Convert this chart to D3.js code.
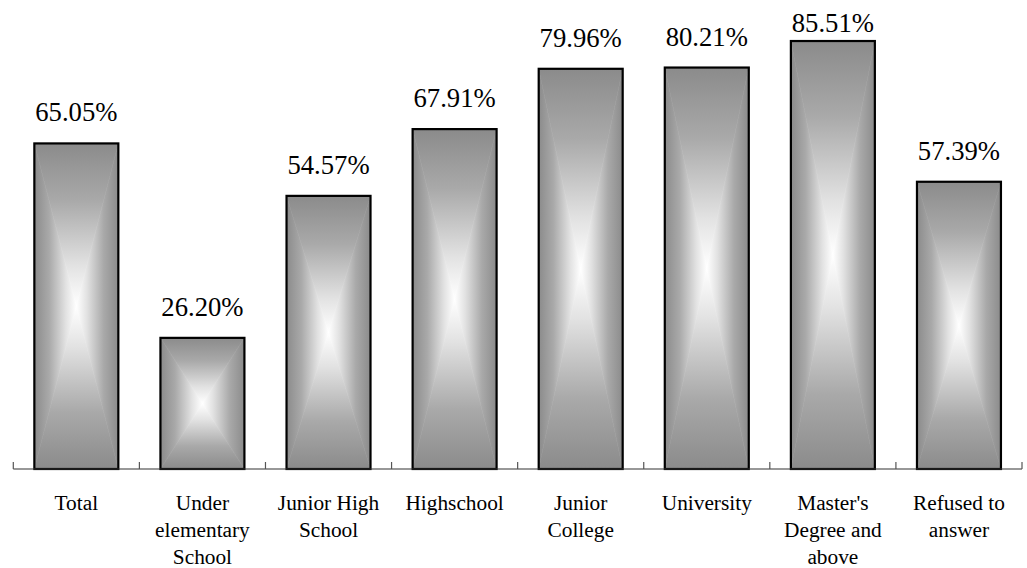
<!DOCTYPE html>
<html>
<head>
<meta charset="utf-8">
<script src="https://cdn.jsdelivr.net/npm/d3@7"></script>
<style>
  html, body { margin: 0; padding: 0; background: #ffffff; }
  svg { display: block; }
</style>
</head>
<body>
<svg id="chart" width="1027" height="568"></svg>
<script>
// Education level categories (each label split into display lines)
const categories = [
  "Total",
  "Under elementary School",
  "Junior High School",
  "Highschool",
  "Junior College",
  "University",
  "Master's Degree and above",
  "Refused to answer"
];
const categoryLines = [
  ["Total"],
  ["Under", "elementary", "School"],
  ["Junior High", "School"],
  ["Highschool"],
  ["Junior", "College"],
  ["University"],
  ["Master's", "Degree and", "above"],
  ["Refused to", "answer"]
];
// Percentage per category
const values = [65.05, 26.20, 54.57, 67.91, 79.96, 80.21, 85.51, 57.39];

const left = 13.3, right = 1022, baseY = 469;
const serif = '"Liberation Serif", "Times New Roman", serif';

const svg = d3.select("#chart");

const x = d3.scaleBand()
  .domain(categories)
  .range([left, right])
  .paddingInner(0.334)
  .paddingOuter(0.167);

const y = d3.scaleLinear()
  .domain([0, 100])
  .range([baseY, -31.5]);

// Boundary positions between categories for the tick marks
const bounds = d3.scaleLinear().domain([0, categories.length]).range([left, right]);

// Rectangular "from centre" shading: four triangles, each with a linear ramp grey -> white
const defs = svg.append("defs");
const ramps = [
  { id: "shadeTop",    x1: 0, y1: 0, x2: 0, y2: 1 },
  { id: "shadeBottom", x1: 0, y1: 1, x2: 0, y2: 0 },
  { id: "shadeLeft",   x1: 0, y1: 0, x2: 1, y2: 0 },
  { id: "shadeRight",  x1: 1, y1: 0, x2: 0, y2: 0 }
];
ramps.forEach(r => {
  const g = defs.append("linearGradient")
    .attr("id", r.id)
    .attr("x1", r.x1).attr("y1", r.y1)
    .attr("x2", r.x2).attr("y2", r.y2);
  g.append("stop").attr("offset", 0).attr("stop-color", "#8b8b8b");
  g.append("stop").attr("offset", 0.35).attr("stop-color", "#a9a9a9");
  g.append("stop").attr("offset", 0.75).attr("stop-color", "#e2e2e2");
  g.append("stop").attr("offset", 1).attr("stop-color", "#ffffff");
});

const data = categories.map((c, i) => ({ c, v: values[i], lines: categoryLines[i] }));

const bars = svg.append("g").selectAll("g.bar")
  .data(data)
  .join("g")
  .attr("class", "bar");

bars.each(function(d) {
  const g = d3.select(this);
  const x0 = x(d.c), x1 = x0 + x.bandwidth();
  const y0 = y(d.v), y1 = y(0);
  const cx = (x0 + x1) / 2, cy = (y0 + y1) / 2;
  const tri = [
    { id: "shadeTop",    pts: [[x0, y0], [x1, y0], [cx, cy]] },
    { id: "shadeBottom", pts: [[x0, y1], [x1, y1], [cx, cy]] },
    { id: "shadeLeft",   pts: [[x0, y0], [x0, y1], [cx, cy]] },
    { id: "shadeRight",  pts: [[x1, y0], [x1, y1], [cx, cy]] }
  ];
  tri.forEach(t => {
    g.append("path")
      .attr("d", d3.line()(t.pts) + "Z")
      .attr("fill", `url(#${t.id})`)
      .attr("stroke", `url(#${t.id})`)
      .attr("stroke-width", 0.6);
  });
  g.append("rect")
    .attr("x", x0).attr("y", y0)
    .attr("width", x1 - x0).attr("height", y1 - y0)
    .attr("fill", "none")
    .attr("stroke", "#000")
    .attr("stroke-width", 2.2);
});

// Value labels above bars (kept inside the top edge)
svg.append("g").selectAll("text")
  .data(data)
  .join("text")
  .attr("x", d => x(d.c) + x.bandwidth() / 2)
  .attr("y", d => Math.max(y(d.v) - 22, 32))
  .attr("text-anchor", "middle")
  .style("font-family", serif)
  .style("font-size", "26.67px")
  .attr("fill", "#000")
  .text(d => d.v.toFixed(2) + "%");

// Category axis line and boundary ticks
const axis = svg.append("g");
axis.append("line")
  .attr("x1", left).attr("x2", right)
  .attr("y1", baseY).attr("y2", baseY)
  .attr("stroke", "#333")
  .attr("stroke-width", 1.2);
axis.selectAll("line.tick")
  .data(d3.range(categories.length + 1))
  .join("line")
  .attr("class", "tick")
  .attr("x1", i => bounds(i)).attr("x2", i => bounds(i))
  .attr("y1", baseY).attr("y2", baseY - 7)
  .attr("stroke", "#555")
  .attr("stroke-width", 1.2);

// Category labels
const labels = svg.append("g").selectAll("text")
  .data(data)
  .join("text")
  .attr("text-anchor", "middle")
  .style("font-family", serif)
  .style("font-size", "21.33px")
  .attr("fill", "#000");
labels.each(function(d) {
  const t = d3.select(this);
  d.lines.forEach((ln, k) => {
    t.append("tspan")
      .attr("x", x(d.c) + x.bandwidth() / 2)
      .attr("y", 510 + k * 27)
      .text(ln);
  });
});
</script>
</body>
</html>
